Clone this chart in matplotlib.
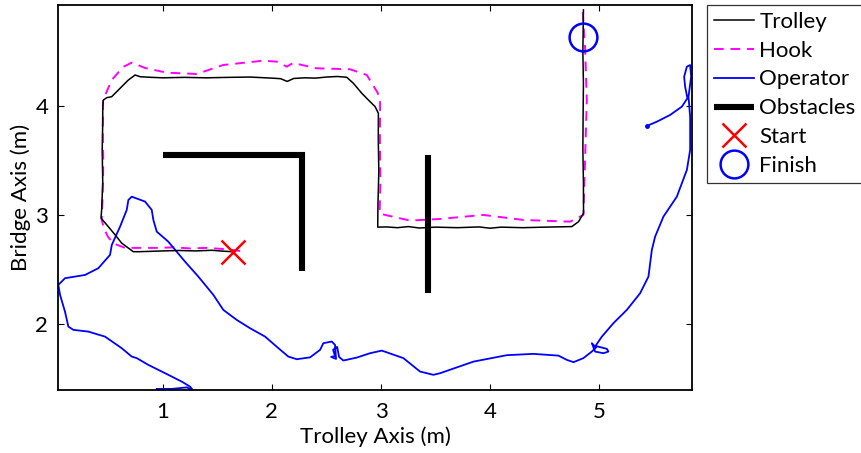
import matplotlib
matplotlib.use("Agg")
import matplotlib.pyplot as plt

plt.rcParams['font.family'] = ['Lato', 'DejaVu Sans']

# ---- data (metres) ----
trolley_x = [1.64, 1.55, 1.45, 1.30, 1.15, 1.00, 0.88, 0.78, 0.730, 0.624, 0.563, 0.487, 0.434,
             0.44, 0.45, 0.445, 0.45, 0.450, 0.456, 0.487, 0.532, 0.609, 0.685, 0.747, 0.792,
             0.90, 1.00, 1.20, 1.40, 1.60, 1.80, 2.00, 2.08, 2.14, 2.20, 2.30, 2.40, 2.50, 2.60,
             2.686, 2.747, 2.824, 2.884, 2.946, 2.976, 2.975, 2.98, 2.972, 2.97,
             3.05, 3.15, 3.25, 3.35, 3.50, 3.70, 3.90, 4.00, 4.10, 4.30, 4.50, 4.65, 4.749,
             4.810, 4.856, 4.855, 4.85, 4.852, 4.855, 4.85, 4.855]
trolley_y = [2.665, 2.670, 2.678, 2.672, 2.676, 2.672, 2.668, 2.665, 2.665, 2.743, 2.820, 2.911, 2.972,
             3.05, 3.30, 3.60, 3.85, 3.994, 4.055, 4.076, 4.085, 4.162, 4.238, 4.284, 4.268,
             4.262, 4.258, 4.262, 4.258, 4.262, 4.265, 4.255, 4.250, 4.225, 4.252, 4.258, 4.255, 4.265, 4.270,
             4.263, 4.208, 4.116, 4.055, 3.994, 3.933, 3.70, 3.40, 3.10, 2.89,
             2.892, 2.885, 2.895, 2.882, 2.890, 2.885, 2.892, 2.880, 2.890, 2.885, 2.890, 2.893, 2.895,
             2.940, 3.017, 3.30, 3.60, 3.90, 4.20, 4.50, 4.88]

hook_x = [1.71, 1.55, 1.40, 1.25, 1.10, 0.95, 0.80, 0.654, 0.55, 0.499, 0.46, 0.441, 0.45, 0.455,
          0.45, 0.453, 0.533, 0.636, 0.716, 0.838, 1.037, 1.312, 1.553, 1.919, 2.045, 2.137, 2.194,
          2.411, 2.717, 2.870, 2.97, 2.992, 2.99, 2.995, 2.987, 3.037, 3.267, 3.542, 3.936, 4.303,
          4.734, 4.855, 4.886, 4.871, 4.846]
hook_y = [2.672, 2.690, 2.700, 2.695, 2.705, 2.700, 2.700, 2.700, 2.740, 2.800, 2.880, 2.956, 3.20, 3.50,
          3.80, 4.055, 4.238, 4.357, 4.397, 4.348, 4.305, 4.293, 4.375, 4.415, 4.406, 4.360, 4.394,
          4.345, 4.336, 4.284, 4.12, 4.055, 3.70, 3.30, 3.017, 3.002, 2.950, 2.965, 3.002, 2.956,
          2.940, 3.002, 4.055, 4.513, 4.909]

operator_x = [5.436, 5.528, 5.650, 5.757, 5.808, 5.787, 5.778, 5.803, 5.833, 5.842, 5.818, 5.833,
              5.833, 5.803, 5.711, 5.588, 5.512, 5.482, 5.451, 5.375, 5.253, 5.130, 5.024, 4.962,
              4.932, 4.962, 5.038, 5.084, 5.070, 4.981, 4.932, 4.855, 4.764, 4.703, 4.626, 4.397,
              4.153, 3.847, 3.542, 3.480, 3.358, 3.205, 3.007, 2.900, 2.778, 2.655, 2.616, 2.598,
              2.561, 2.579, 2.543, 2.588, 2.579, 2.549, 2.472, 2.442, 2.350, 2.228, 2.151, 2.060,
              1.938, 1.800, 1.678, 1.555, 1.464, 1.326, 1.204, 1.051, 0.945, 0.914, 0.899, 0.838,
              0.716, 0.685, 0.670, 0.609, 0.533, 0.517, 0.410, 0.288, 0.104, 0.043, 0.059, 0.104,
              0.135, 0.181, 0.318, 0.471, 0.624, 0.716, 0.762, 0.868, 1.021, 1.174, 1.250, 1.278,
              1.220, 1.082, 0.945]
operator_y = [3.817, 3.856, 3.918, 3.994, 4.071, 4.177, 4.268, 4.360, 4.375, 4.268, 4.085, 3.902,
              3.597, 3.414, 3.169, 2.986, 2.803, 2.681, 2.437, 2.285, 2.132, 2.010, 1.887, 1.796,
              1.827, 1.750, 1.735, 1.750, 1.775, 1.798, 1.750, 1.690, 1.653, 1.674, 1.713, 1.729,
              1.717, 1.658, 1.552, 1.537, 1.567, 1.690, 1.759, 1.735, 1.695, 1.668, 1.701, 1.793,
              1.766, 1.710, 1.701, 1.683, 1.811, 1.842, 1.827, 1.766, 1.697, 1.680, 1.704, 1.781,
              1.887, 1.964, 2.040, 2.132, 2.269, 2.437, 2.574, 2.757, 2.849, 2.956, 3.048, 3.124,
              3.169, 3.139, 3.048, 2.895, 2.727, 2.636, 2.514, 2.452, 2.422, 2.361, 2.269, 2.116,
              1.979, 1.949, 1.933, 1.887, 1.781, 1.704, 1.690, 1.628, 1.552, 1.475, 1.429, 1.395,
              1.422, 1.408, 1.408]

obstacle1_x = [1.00, 2.28, 2.28]
obstacle1_y = [3.55, 3.55, 2.49]
obstacle2_x = [3.43, 3.43]
obstacle2_y = [3.55, 2.285]

start_xy = (1.64, 2.665)
finish_xy = (4.85, 4.635)

x_ticks = [1, 2, 3, 4, 5]
y_ticks = [2, 3, 4]

FS = 16

# ---- figure ----
fig = plt.figure(figsize=(8.61, 4.53), dpi=100)
ax = fig.add_axes([58/861, 1-390/453, (692-58)/861, (390-5)/453])

ax.plot(trolley_x, trolley_y, color='black', lw=1.1, label='Trolley', zorder=3)
ax.plot(hook_x, hook_y, color='#ff00ff', lw=1.4, ls=(0, (5, 3.5)), label='Hook', zorder=2)
ax.plot(operator_x, operator_y, color='#0000ff', lw=1.3, label='Operator', zorder=2)
ax.plot(operator_x[:1], operator_y[:1], color='#0000ff', marker='o', ms=2.5, ls='none', zorder=2)
ax.plot(obstacle1_x, obstacle1_y, color='black', lw=4.4, solid_capstyle='butt',
        solid_joinstyle='miter', label='Obstacles', zorder=4)
ax.plot(obstacle2_x, obstacle2_y, color='black', lw=4.4, solid_capstyle='butt', zorder=4)
ax.plot([start_xy[0]], [start_xy[1]], marker='x', color='red', ms=17, mew=1.8,
        ls='none', label='Start', zorder=5)
ax.plot([finish_xy[0]], [finish_xy[1]], marker='o', mfc='none', mec='#0000ff', ms=20,
        mew=1.8, ls='none', label='Finish', zorder=5)

ax.set_xlim(0.04, 5.85)
ax.set_ylim(1.398, 4.925)
ax.set_xticks(x_ticks)
ax.set_yticks(y_ticks)
ax.set_xticklabels([str(v) for v in x_ticks])
ax.set_yticklabels([str(v) for v in y_ticks])
ax.tick_params(direction='in', length=4, width=0.8, top=True, right=True,
               labelsize=FS)
ax.tick_params(axis='x', pad=9)
ax.tick_params(axis='y', pad=7)
for s in ax.spines.values():
    s.set_linewidth(1.3)
ax.set_xlabel('Trolley Axis (m)', fontsize=FS, labelpad=3)
ax.set_ylabel('Bridge Axis (m)', fontsize=FS, labelpad=3)

handles, labels = ax.get_legend_handles_labels()
leg = fig.legend(handles, labels, loc='upper left', bbox_to_anchor=(707/861, 1-5/453),
                 fontsize=FS, frameon=True, fancybox=False, edgecolor='black',
                 handlelength=1.8, handletextpad=0.25, labelspacing=0.4,
                 borderpad=0.3, borderaxespad=0)
leg.get_frame().set_linewidth(0.9)

fig.savefig('out.png', dpi=100)
